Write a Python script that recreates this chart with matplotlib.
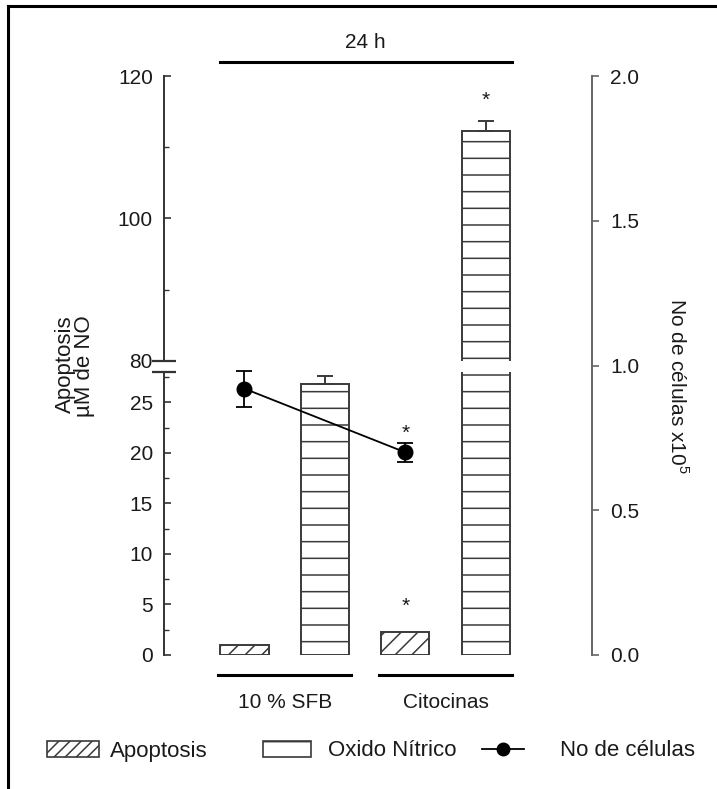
import matplotlib
matplotlib.use("Agg")
import matplotlib.pyplot as plt
from matplotlib.patches import Patch
from matplotlib.lines import Line2D
from matplotlib import transforms

plt.rcParams['font.family'] = ['Liberation Sans', 'DejaVu Sans']
plt.rcParams['mathtext.fontset'] = 'custom'
plt.rcParams['mathtext.rm'] = 'Liberation Sans'
plt.rcParams['hatch.linewidth'] = 1.1

# datos
grupos = ['10 % SFB', 'Citocinas']
pos_apoptosis = [1, 3]
pos_oxido = [2, 4]
apoptosis = [1.0, 2.3]
oxido = [26.8, 112.3]
oxido_err = [0.8, 1.4]
celulas = [0.92, 0.70]
celulas_err = [0.062, 0.033]

W, H = 717, 789
def rect(l, t, r, b):
    return [l / W, 1 - b / H, (r - l) / W, (b - t) / H]

fig = plt.figure(figsize=(W / 100, H / 100), dpi=100)
ax_hi = fig.add_axes(rect(164, 76, 592, 361))
ax_lo = fig.add_axes(rect(164, 372, 592, 655))
ax_r = fig.add_axes(rect(164, 76, 592, 655))

txt = '#1a1a1a'
eje = '#333333'
borde = '#3a3a3a'
fs = 15      # ticks
fs_lab = 16  # titulos de ejes y leyenda

for ax in (ax_hi, ax_lo):
    ax.bar(pos_apoptosis, apoptosis, width=0.6, color='white', edgecolor=borde,
           linewidth=1.4, hatch='//')
    ax.bar(pos_oxido, oxido, width=0.6, color='white', edgecolor=borde,
           linewidth=1.4, hatch='-')
    ax.errorbar(pos_oxido, oxido, yerr=[[0, 0], oxido_err], fmt='none', ecolor=borde,
                elinewidth=1.4, capsize=6, capthick=1.4)
    ax.set_xlim(0, 5.32)
    for s in ('top', 'right', 'bottom'):
        ax.spines[s].set_visible(False)
    ax.spines['left'].set_color(eje)
    ax.spines['left'].set_linewidth(1.4)
    ax.set_xticks([])
    ax.tick_params(axis='y', which='major', direction='in', length=5, width=1.2,
                   color=eje, labelsize=fs, labelcolor=txt, pad=8)
    ax.tick_params(axis='y', which='minor', direction='in', length=3.5, width=1.0, color=eje)
    ax.patch.set_visible(False)

ax_hi.set_ylim(80, 120)
ax_hi.set_yticks([80, 100, 120])
ax_hi.set_yticks([90, 110], minor=True)
ax_lo.set_ylim(0, 28)
ax_lo.set_yticks([0, 5, 10, 15, 20, 25])
ax_lo.set_yticks([2.5, 7.5, 12.5, 17.5, 22.5, 27.5], minor=True)

# marcas de corte del eje
for ax, y in ((ax_hi, 0), (ax_lo, 1)):
    ax.plot([-0.028, 0.028], [y, y], transform=ax.transAxes, color=eje, lw=1.6,
            clip_on=False, solid_capstyle='butt')

# eje derecho: numero de celulas
ax_r.patch.set_visible(False)
for s in ('top', 'left', 'bottom'):
    ax_r.spines[s].set_visible(False)
ax_r.spines['right'].set_color('#666666')
ax_r.spines['right'].set_linewidth(1.4)
ax_r.set_xlim(0, 5.32)
ax_r.set_ylim(0, 2.0)
ax_r.set_xticks([])
ax_r.yaxis.tick_right()
ax_r.set_yticks([0.0, 0.5, 1.0, 1.5, 2.0])
ax_r.set_yticklabels(['0.0', '0.5', '1.0', '1.5', '2.0'])
ax_r.tick_params(axis='y', direction='out', length=5, width=1.2, color='#666666',
                 labelsize=fs, labelcolor=txt, pad=8)
ax_r.errorbar(pos_apoptosis, celulas, yerr=celulas_err, fmt='-o', color='black',
              ms=10.5, lw=1.3, elinewidth=1.3, capsize=6, capthick=1.3)

# asteriscos
ax_r.annotate('*', (pos_apoptosis[1], celulas[1] + celulas_err[1]), xytext=(0, 2.5),
              textcoords='offset points', ha='center', va='baseline', fontsize=fs, color=txt)
ax_hi.annotate('*', (pos_oxido[1], oxido[1] + oxido_err[1]), xytext=(0, 10.5),
               textcoords='offset points', ha='center', va='baseline', fontsize=fs, color=txt)
ax_lo.annotate('*', (pos_apoptosis[1], apoptosis[1]), xytext=(0, 14),
               textcoords='offset points', ha='center', va='baseline', fontsize=fs, color=txt)

# lineas de grupo y de 24 h
tr = transforms.blended_transform_factory(ax_lo.transData, fig.transFigure)
for i, g in enumerate(grupos):
    x0 = pos_apoptosis[i] - 0.33
    x1 = pos_oxido[i] + 0.33
    fig.add_artist(Line2D([x0, x1], [1 - 675 / H] * 2, transform=tr, color='black', lw=2.2))
    fig.text((pos_apoptosis[i] + pos_oxido[i]) / 2, 1 - 702 / H, g, transform=tr,
             ha='center', va='center', fontsize=fs, color=txt)
fig.add_artist(Line2D([pos_apoptosis[0] - 0.3, pos_oxido[1] + 0.32], [1 - 62 / H] * 2,
                      transform=tr, color='black', lw=2.2))
fig.text((pos_apoptosis[0] + pos_oxido[1]) / 2, 1 - 42 / H, '24 h', transform=tr,
         ha='center', va='center', fontsize=fs, color=txt)

# titulos de ejes
fig.text(75 / W, 1 - 366 / H, 'Apoptosis\nµM de NO', rotation=90, ha='center', va='center',
         multialignment='right', fontsize=fs_lab, color=txt, linespacing=0.93)
fig.text(677 / W, 1 - 386 / H, 'No de células x10$^{5}$', rotation=270, ha='center',
         va='center', fontsize=15, color=txt)

# leyenda
h_apo = Patch(facecolor='white', edgecolor=borde, hatch='///', linewidth=1.2)
h_no = Patch(facecolor='white', edgecolor=borde, hatch='-', linewidth=1.2)
h_cel = Line2D([], [], color='black', marker='o', ms=9, lw=1.3)
for h, lab, x0, hl, tp in ((h_apo, 'Apoptosis', 47, 2.35, 0.5),
                           (h_no, 'Oxido Nítrico', 263, 2.16, 0.75),
                           (h_cel, 'No de células', 482, 1.9, 1.6)):
    fig.legend([h], [lab], loc='center left', bbox_to_anchor=(x0 / W, 1 - 751 / H),
               frameon=False, fontsize=fs_lab, handlelength=hl, handletextpad=tp,
               borderpad=0, borderaxespad=0, labelcolor=txt)

# marco
fig.add_artist(Line2D([8 / W, 8 / W], [0, 1 - 6 / H], color='black', lw=2.2))
fig.add_artist(Line2D([8 / W, 1], [1 - 6 / H, 1 - 6 / H], color='black', lw=2.2))

fig.savefig('out.png', dpi=100)
